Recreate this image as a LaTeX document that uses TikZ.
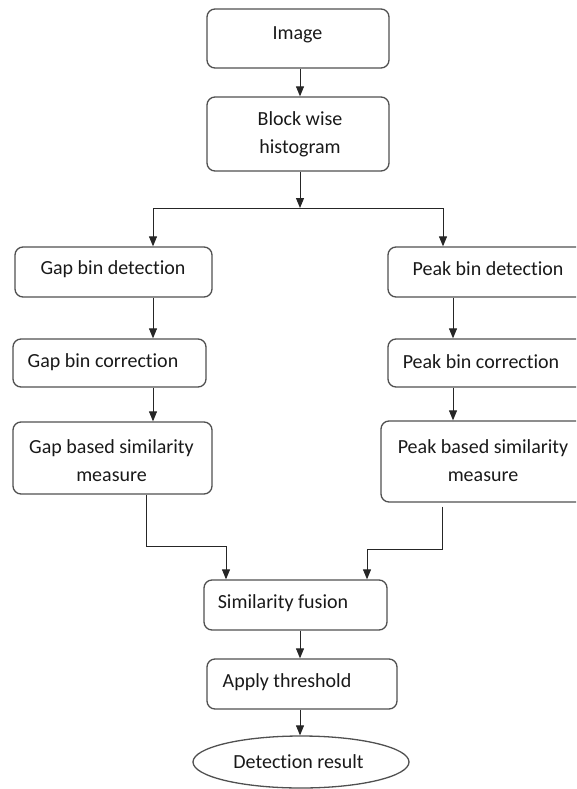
\documentclass[tikz,border=0pt]{standalone}
\usepackage{fontspec}
\setmainfont{Carlito}[Ligatures=NoCommon]
\usetikzlibrary{arrows.meta,shapes.geometric}
\definecolor{boxline}{HTML}{505050}
\tikzset{
  box/.style={draw=boxline, line width=1.3pt, rounded corners=8pt, inner sep=0pt},
  txt/.style={font=\fontsize{20}{28}\selectfont, align=center, inner sep=0pt, text=black!90},
  conn/.style={draw=black!85, line width=1pt},
  arr/.style={conn, -{Triangle[length=10pt,width=8pt]}}
}
\begin{document}
\begin{tikzpicture}[x=1pt,y=-1pt]
\useasboundingbox (0,0) rectangle (576,789);
\clip (0,0) rectangle (576,789);
% boxes
\node[box, minimum width=182pt, minimum height=59pt] (img) at (298,38.5) {};
\node[box, minimum width=182pt, minimum height=74pt] (blk) at (298,134) {};
\node[box, minimum width=197pt, minimum height=50pt] (gd) at (113.5,272) {};
\node[box, minimum width=197pt, minimum height=50pt] (pd) at (486.5,272) {};
\node[box, minimum width=193pt, minimum height=48pt] (gc) at (109.5,363) {};
\node[box, minimum width=197pt, minimum height=48pt] (pc) at (486.5,363) {};
\node[box, minimum width=199pt, minimum height=72pt] (gs) at (112.5,458) {};
\node[box, minimum width=204pt, minimum height=81pt] (ps) at (483,461.5) {};
\node[box, minimum width=183pt, minimum height=50pt] (sf) at (295.5,605) {};
\node[box, minimum width=190pt, minimum height=50pt] (at) at (302,684) {};
\node[draw=boxline, line width=1.3pt, ellipse, minimum width=216pt, minimum height=52pt, inner sep=0pt] (res) at (301,762) {};
% texts
\node[txt] (imgt) at (297.5,35) {Image};
\node[txt] (blkt) at (300,134) {Block wise\\histogram};
\node[txt] (gdt) at (113,269) {Gap bin detection};
\node[txt] (pdt) at (488,269) {Peak bin detection};
\node[txt] (gct) at (103,362) {Gap bin correction};
\node[txt] (pct) at (481,362) {Peak bin correction};
\node[txt] (gst) at (111.5,461) {Gap based similarity\\measure};
\node[txt] (pst) at (483,461) {Peak based similarity\\measure};
\node[txt] (sft) at (283,603) {Similarity fusion};
\node[txt] (att) at (287,682) {Apply threshold};
\node[txt] (rest) at (298.5,762) {Detection result};
% junction coordinates
\coordinate (split) at (300,208);
\coordinate (splitL) at (153,208);
\coordinate (splitR) at (443,208);
\coordinate (rcol) at (453,208);
\coordinate (gsdown) at (146,546);
\coordinate (sfinL) at (226,546);
\coordinate (psdown) at (442,549);
\coordinate (sfinR) at (367,549);
% connectors
\draw[arr] (img.south -| split) -- (blk.north -| split);
\draw[arr] (blk.south -| split) -- (split);
\draw[conn] (splitL) -- (splitR);
\draw[arr] (splitL) -- (gd.north -| splitL);
\draw[arr] (splitR) -- (pd.north -| splitR);
\draw[arr] (gd.south -| splitL) -- (gc.north -| splitL);
\draw[arr] (gc.south -| splitL) -- (gs.north -| splitL);
\draw[arr] (pd.south -| rcol) -- (pc.north -| rcol);
\draw[arr] (pc.south -| rcol) -- (ps.north -| rcol);
\draw[arr] (gs.south -| gsdown) -- (gsdown) -- (sfinL) -- (sf.north -| sfinL);
\draw[arr, shorten <=4pt] (ps.south -| psdown) -- (psdown) -- (sfinR) -- (sf.north -| sfinR);
\draw[arr] (sf.south -| split) -- (at.north -| split);
\draw[arr] (at.south -| split) -- (res.north -| split);
\end{tikzpicture}
\end{document}
